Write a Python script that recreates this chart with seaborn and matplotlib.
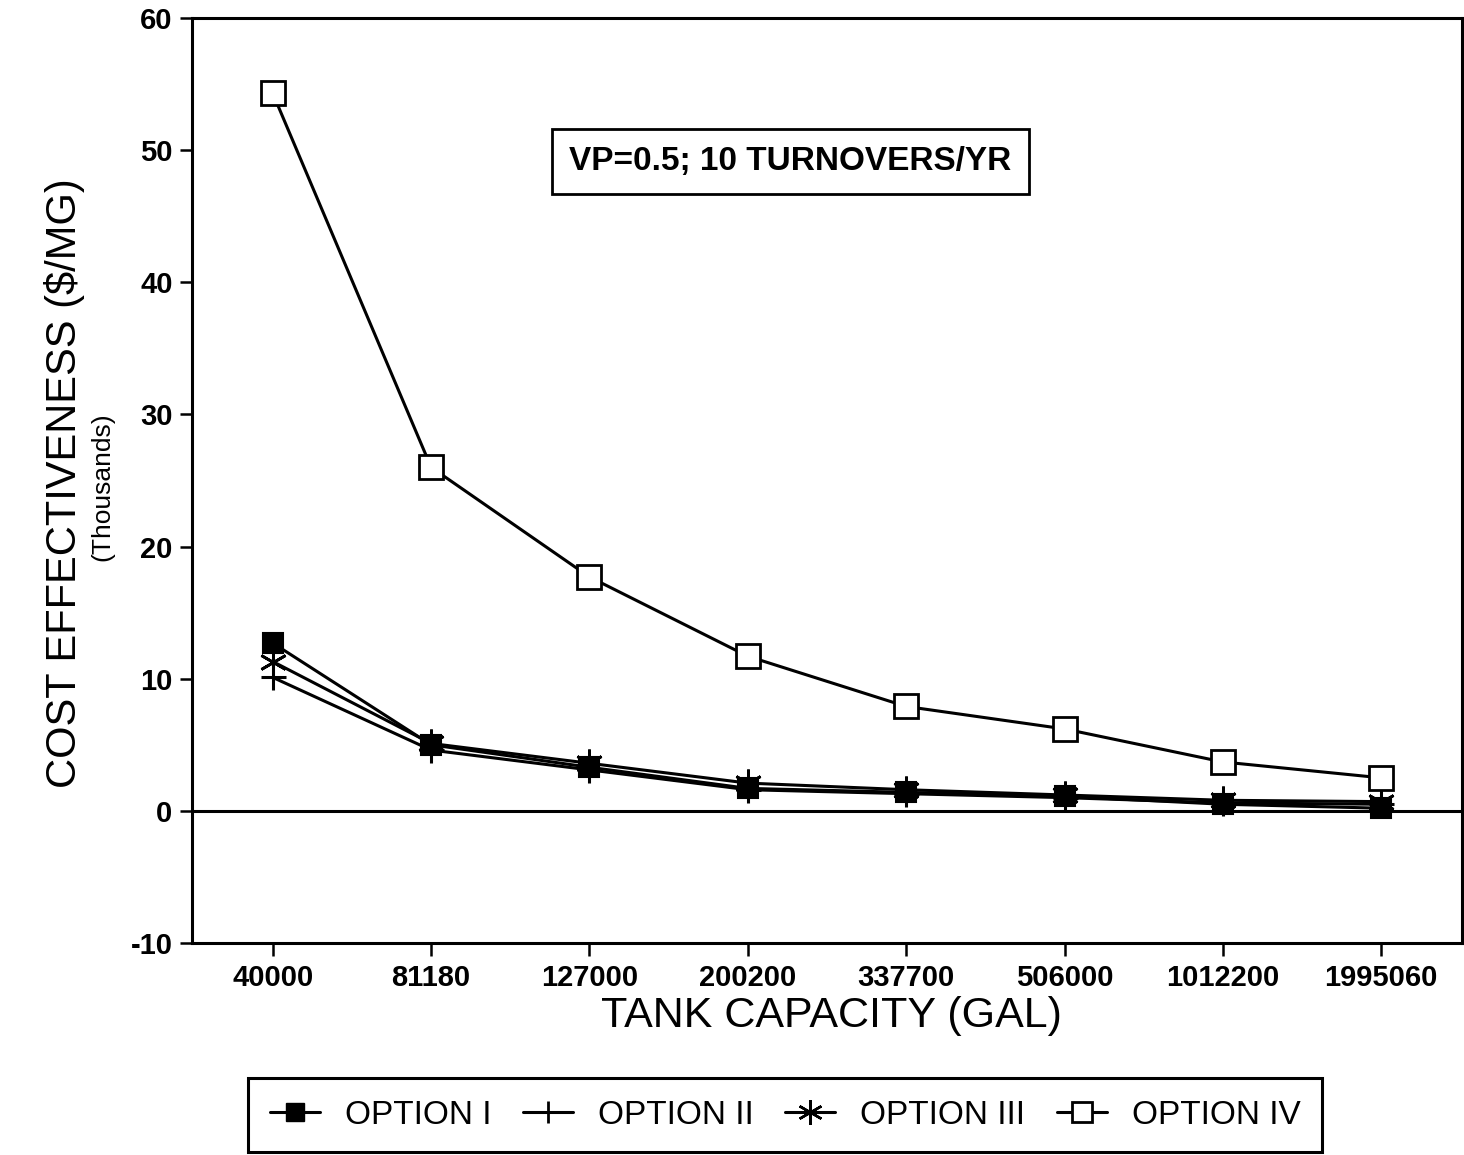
import matplotlib
matplotlib.use("Agg")
import matplotlib.pyplot as plt
from matplotlib.lines import Line2D
import pandas as pd
import seaborn as sns

# Tank capacities (gal) shown as evenly spaced categories
capacities = ["40000", "81180", "127000", "200200", "337700", "506000", "1012200", "1995060"]

# Cost effectiveness, thousands of $/MG
option_i = [12.7, 5.0, 3.3, 1.7, 1.4, 1.1, 0.5, 0.2]
option_ii = [10.1, 4.6, 3.1, 1.6, 1.3, 1.0, 0.6, 0.5]
option_iii = [11.3, 5.1, 3.6, 2.1, 1.6, 1.2, 0.8, 0.7]
option_iv = [54.3, 26.0, 17.7, 11.7, 7.9, 6.2, 3.7, 2.5]

series_names = ["OPTION I", "OPTION II", "OPTION III", "OPTION IV"]
series_values = [option_i, option_ii, option_iii, option_iv]

y_ticks = [-10, 0, 10, 20, 30, 40, 50, 60]

sns.set_theme(style="white")
plt.rcParams["font.family"] = ["Liberation Sans", "DejaVu Sans"]
plt.rcParams["text.color"] = "black"
plt.rcParams["axes.labelcolor"] = "black"
plt.rcParams["xtick.color"] = "black"
plt.rcParams["ytick.color"] = "black"

frames = []
for name, vals in zip(series_names, series_values):
    frames.append(pd.DataFrame({"capacity": capacities, "value": vals, "option": name}))
df = pd.concat(frames, ignore_index=True)

fig = plt.figure(figsize=(14.64, 11.55), dpi=100)
ax = fig.add_axes([192 / 1464, 1 - 943 / 1155, (1462 - 192) / 1464, (943 - 18) / 1155])

marker_styles = {
    "OPTION I": dict(marker="s", markersize=15, markerfacecolor="black", markeredgecolor="black", markeredgewidth=1.5),
    "OPTION II": dict(marker="+", markersize=18, markerfacecolor="black", markeredgecolor="black", markeredgewidth=2.2),
    "OPTION III": dict(marker=(6, 2, 0), markersize=20, markerfacecolor="black", markeredgecolor="black", markeredgewidth=2.0),
    "OPTION IV": dict(marker="s", markersize=17, markerfacecolor="white", markeredgecolor="black", markeredgewidth=2.0),
}

for name in series_names:
    sub = df[df["option"] == name]
    sns.lineplot(data=sub, x="capacity", y="value", ax=ax, sort=False, color="black",
                 linewidth=2.2, legend=False, **marker_styles[name])

# Zero reference line
ax.axhline(0, color="black", linewidth=2.2, zorder=1)

ax.set_xlim(-0.51, 7.51)
ax.set_ylim(-10, 60)
ax.set_yticks(y_ticks)
ax.set_yticklabels([str(t) for t in y_ticks], fontsize=21, fontweight="bold", color="black")
ax.set_xticks(range(len(capacities)))
ax.set_xticklabels(capacities, fontsize=21, fontweight="bold", color="black")
ax.tick_params(axis="both", direction="out", length=9, width=1.8, color="black", pad=5)
ax.tick_params(axis="x", pad=6)
ax.tick_params(left=True, bottom=True)

for side in ["left", "right", "top", "bottom"]:
    ax.spines[side].set_visible(True)
    ax.spines[side].set_color("black")
    ax.spines[side].set_linewidth(2.2)

ax.set_xlabel("")
ax.set_ylabel("")

fig.text((605 + 1057) / 2 / 1464, 1 - 1016 / 1155, "TANK CAPACITY (GAL)", fontsize=31,
         ha="center", va="center", color="black")
fig.text(65 / 1464, 1 - 483 / 1155, "COST EFFECTIVENESS ($/MG)", fontsize=30,
         rotation=90, ha="center", va="center", color="black")
fig.text(102 / 1464, 1 - 487 / 1155, "(Thousands)", fontsize=19,
         rotation=90, ha="center", va="center", color="black")

ax.text(0.471, 0.845, "VP=0.5; 10 TURNOVERS/YR", transform=ax.transAxes, fontsize=24,
        fontweight="bold", ha="center", va="center", color="black",
        bbox=dict(boxstyle="square,pad=0.52", facecolor="white", edgecolor="black", linewidth=2.0))

legend_styles = {
    "OPTION I": dict(marker="s", markersize=13, markerfacecolor="black", markeredgecolor="black"),
    "OPTION II": dict(marker="+", markersize=16, markeredgecolor="black", markeredgewidth=2.0),
    "OPTION III": dict(marker=(6, 2, 0), markersize=18, markeredgecolor="black", markeredgewidth=1.8),
    "OPTION IV": dict(marker="s", markersize=15, markerfacecolor="white", markeredgecolor="black", markeredgewidth=2.0),
}
handles = [Line2D([0], [0], color="black", linewidth=2.2, **legend_styles[n]) for n in series_names]
leg = fig.legend(handles, series_names, loc="upper left",
                 bbox_to_anchor=(248 / 1464, 1 - 1078 / 1155), ncol=4, fontsize=24,
                 frameon=True, fancybox=False, framealpha=1, edgecolor="black",
                 handlelength=1.5, handletextpad=0.75, columnspacing=0.95,
                 borderpad=0.65, borderaxespad=0)
leg.get_frame().set_linewidth(2.2)
for t in leg.get_texts():
    t.set_color("black")

fig.savefig("out.png", dpi=100, facecolor="white")
